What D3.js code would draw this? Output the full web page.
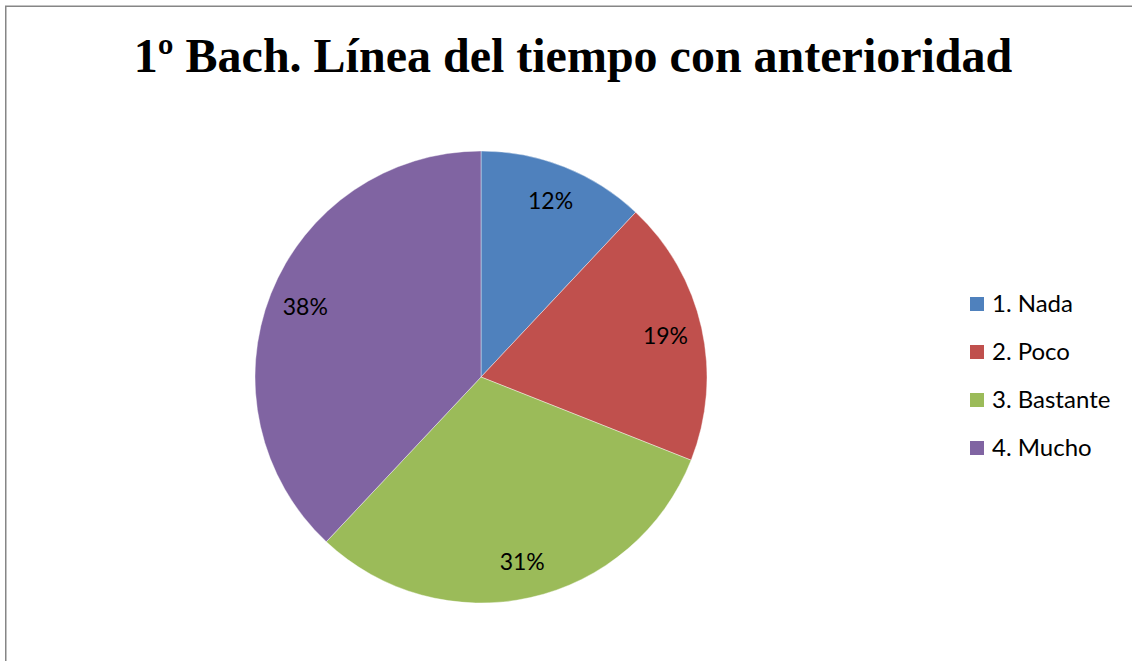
<!DOCTYPE html>
<html>
<head>
<meta charset="utf-8">
<script src="https://cdn.jsdelivr.net/npm/d3@7/dist/d3.min.js"></script>
<style>
  html, body { margin: 0; padding: 0; background: #fff; }
  svg { display: block; }
</style>
</head>
<body>
<svg id="chart" width="1132" height="661"></svg>
<script>
// Survey answers and their share of responses (%)
const categories = ["1. Nada", "2. Poco", "3. Bastante", "4. Mucho"];
const shares = [12, 19, 31, 38];
const colors = ["#4F81BD", "#C0504D", "#9BBB59", "#8064A2"];
const title = "1º Bach. Línea del tiempo con anterioridad";

const svg = d3.select("#chart");
const W = 1132, H = 661;

// Chart frame (runs off the right and bottom edges)
svg.append("rect")
  .attr("x", 5.75).attr("y", 6.25)
  .attr("width", W + 10).attr("height", H + 10)
  .attr("fill", "#fff")
  .attr("stroke", "#868686")
  .attr("stroke-width", 1.5);

// Title
svg.append("text")
  .attr("x", 573).attr("y", 72)
  .attr("text-anchor", "middle")
  .attr("font-family", "'Liberation Serif', 'Times New Roman', serif")
  .attr("font-weight", "bold")
  .attr("font-size", 48)
  .attr("fill", "#000")
  .text(title);

// Pie
const cx = 481, cy = 377, R = 226;
const data = categories.map((c, i) => ({ name: c, value: shares[i], color: colors[i] }));
const pie = d3.pie().value(d => d.value).sort(null);
const arcs = pie(data);
const arc = d3.arc().innerRadius(0).outerRadius(R);
const labelArc = d3.arc().innerRadius(189).outerRadius(189);

const g = svg.append("g").attr("transform", `translate(${cx},${cy})`);
g.selectAll("path.slice")
  .data(arcs)
  .join("path")
  .attr("class", "slice")
  .attr("d", arc)
  .attr("fill", d => d.data.color)
  .attr("stroke", "#fff")
  .attr("stroke-opacity", 0.5)
  .attr("stroke-width", 0.8);

g.selectAll("text.pct")
  .data(arcs)
  .join("text")
  .attr("class", "pct")
  .attr("transform", d => `translate(${labelArc.centroid(d)})`)
  .attr("text-anchor", "middle")
  .attr("dy", "0.35em")
  .attr("font-family", "Lato, 'Noto Sans', sans-serif")
  .attr("font-size", 23)
  .attr("fill", "#000")
  .text(d => d.data.value + "%");

// Legend
const legend = svg.append("g").attr("transform", "translate(970,304)");
const rowGap = 48;
const items = legend.selectAll("g.item")
  .data(data)
  .join("g")
  .attr("class", "item")
  .attr("transform", (d, i) => `translate(0,${i * rowGap})`);
items.append("rect")
  .attr("x", 0).attr("y", -7)
  .attr("width", 14).attr("height", 14)
  .attr("fill", d => d.color);
items.append("text")
  .attr("x", 22).attr("y", 0)
  .attr("dy", "0.35em")
  .attr("font-family", "Lato, 'Noto Sans', sans-serif")
  .attr("font-size", 24)
  .attr("fill", "#000")
  .text(d => d.name);
</script>
</body>
</html>
